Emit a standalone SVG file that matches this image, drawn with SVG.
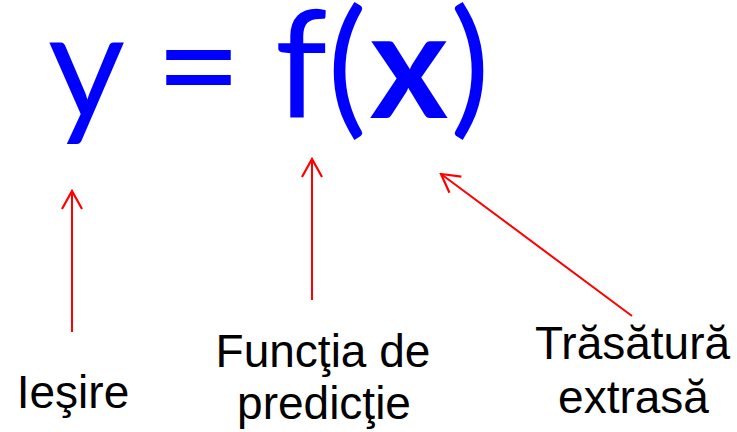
<svg xmlns="http://www.w3.org/2000/svg" width="737" height="432" viewBox="0 0 737 432">
<style>
.eq{font-family:Lato,"Open Sans","Noto Sans",sans-serif;font-size:150px;fill:#0000ff;text-anchor:middle}
.lbl{font-family:"Liberation Sans",Arial,sans-serif;font-size:46px;fill:#000;text-anchor:middle}
.arr{stroke:#ff0000;stroke-width:2;fill:none;marker-end:url(#ah)}
</style>
<defs>
<marker id="ah" markerUnits="userSpaceOnUse" viewBox="-20 -12 22 24" refX="0" refY="0" markerWidth="22" markerHeight="24" orient="auto">
<path d="M-18,-10 L0,0 L-18,10" stroke="#ff0000" stroke-width="2.2" fill="none"/>
</marker>
</defs>
<g id="formula">
<text class="eq" x="86.5" y="118">y</text>
<text class="eq" x="198.5" y="118">=</text>
<text class="eq" x="301" y="118">f</text>
<text class="eq" x="347" y="118">(</text>
<text class="eq" x="409" y="118" font-weight="bold">x</text>
<text class="eq" x="470" y="118">)</text>
</g>
<g id="connectors">
<line class="arr" x1="72" y1="332" x2="72" y2="191"/>
<line class="arr" x1="312" y1="300" x2="312" y2="159"/>
<line class="arr" x1="632" y1="316" x2="441" y2="174"/>
</g>
<g id="iesire"><text class="lbl" x="73" y="408" font-size="47">Ieşire</text></g>
<g id="functia"><text class="lbl" x="323" y="367">Funcţia de</text><text class="lbl" x="324" y="419">predicţie</text></g>
<g id="trasatura"><text class="lbl" x="632.5" y="359">Trăsătură</text><text class="lbl" x="633.5" y="413">extrasă</text></g>
</svg>
